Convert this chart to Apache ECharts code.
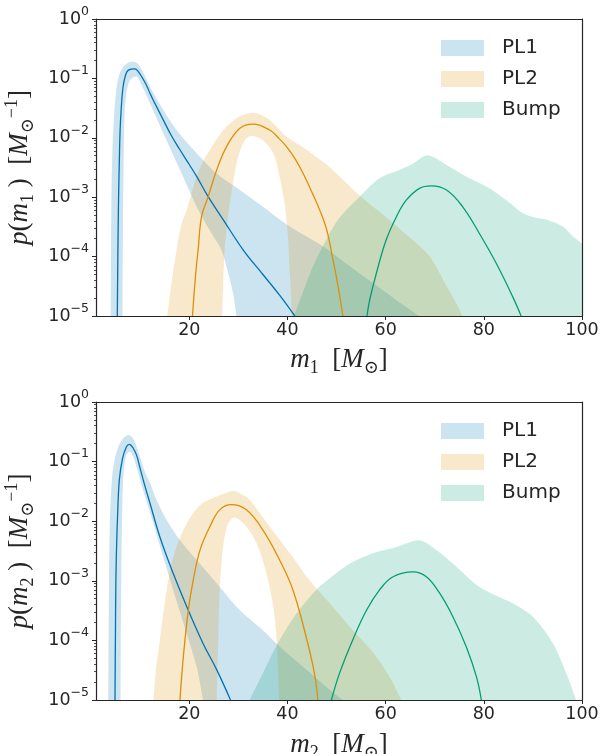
<!DOCTYPE html>
<html><head><meta charset="utf-8">
<script src="https://cdn.jsdelivr.net/npm/echarts@6/dist/echarts.min.js"></script>
<style>html,body{margin:0;padding:0;background:#fff}#c{width:602px;height:754px}</style>
</head><body><div id="c"></div>
<script>
// ---------- data (m, p) ----------
const legendNames = ['PL1', 'PL2', 'Bump'];
const xTicks = [20, 40, 60, 80, 100];
const yTicks = [1e-5, 1e-4, 1e-3, 1e-2, 1e-1, 1];

// top panel: m1
const m1Pl1Median = [[5.34,1e-5],[5.45,1e-4],[5.6,1e-3],[5.75,4e-3],[5.9,1.26e-2],[6.15,3.2e-2],[6.5,7.1e-2],[7.0,1.12e-1],[7.6,1.38e-1],[8.9,1.45e-1],[10,1.17e-1],[11.3,7.6e-2],[12,5.6e-2],[13,3.8e-2],[14.7,2e-2],[16.4,1.07e-2],[18.1,6.3e-3],[20,3.55e-3],[21.5,2.24e-3],[23.85,1.02e-3],[26.9,4.2e-4],[31,1.29e-4],[35,5e-5],[38.4,2.24e-5],[41.5,1e-5]];
const m1Pl1Upper = [[4.0,1e-5],[4.05,1e-4],[4.15,1e-3],[4.35,6.3e-3],[4.7,2.5e-2],[5.2,7.1e-2],[5.8,1.2e-1],[6.6,1.58e-1],[7.5,1.82e-1],[8.6,1.9e-1],[9.6,1.74e-1],[10.8,1.17e-1],[12,7.2e-2],[13,5.1e-2],[14.7,2.95e-2],[16,2e-2],[17.4,1.35e-2],[19.5,8.3e-3],[21.5,5.5e-3],[25.6,2.5e-3],[30.3,1.32e-3],[35,6.9e-4],[40.5,3.2e-4],[47.3,1.48e-4],[52,7.6e-5],[57,3.8e-5],[62,1.9e-5],[66.8,1e-5]];
const m1Pl1Lower = [[6.4,1e-5],[6.45,1e-4],[6.55,1e-3],[6.7,1e-2],[6.9,3.2e-2],[7.3,6.3e-2],[8.0,9.5e-2],[9.3,1.07e-1],[10.5,7.1e-2],[12,3.8e-2],[13.5,2e-2],[14.7,1.2e-2],[16.4,5.9e-3],[18.1,2.9e-3],[19.8,1.41e-3],[21.5,6.9e-4],[23.2,3.8e-4],[24.9,2.2e-4],[26.6,1.26e-4],[28,5e-5],[29,2.24e-5],[29.6,1e-5]];
const m1Pl2Median = [[20.65,1e-5],[21.0,2.5e-5],[21.4,6.3e-5],[21.8,1.29e-4],[22.5,4.7e-4],[23.85,1.02e-3],[25.6,2.9e-3],[27.6,7.1e-3],[30.3,1.45e-2],[33,1.7e-2],[36.4,1.35e-2],[38.4,9.5e-3],[39.8,7.1e-3],[41.5,4.5e-3],[43.2,2.5e-3],[45,1.2e-3],[46.6,6e-4],[48,2.8e-4],[49.3,8.7e-5],[50.3,3.2e-5],[51.3,1e-5]];
const m1Pl2Upper = [[15.5,1e-5],[16.3,3.2e-5],[17.4,1.29e-4],[18.4,3.5e-4],[19.45,6e-4],[20.5,1.2e-3],[21.5,2.24e-3],[22.8,4e-3],[24.2,6.3e-3],[25.8,1e-2],[27.6,1.55e-2],[30.3,2.3e-2],[33,2.63e-2],[34.7,2.4e-2],[36.4,2e-2],[38,1.48e-2],[39.8,1.05e-2],[43.9,6.3e-3],[48.6,3.2e-3],[54.7,1.07e-3],[60,4.7e-4],[65.5,1.9e-4],[69,1e-4],[72.4,3.2e-5],[74.5,1.58e-5],[75.6,1e-5]];
const m1Pl2Lower = [[26.7,1e-5],[26.9,3.2e-5],[27.2,1.29e-4],[27.9,4.7e-4],[28.9,1.74e-3],[29.95,4.8e-3],[31.3,9.1e-3],[32.7,1.07e-2],[35,9.1e-3],[37.1,5.5e-3],[38.4,2.24e-3],[39.5,6.9e-4],[40.1,2.2e-4],[40.5,5e-5],[40.9,1e-5]];
const m1BumpMedian = [[56.2,1e-5],[56.75,1.86e-5],[58.1,5.2e-5],[60.1,1.9e-4],[62.2,4.7e-4],[64.2,8.9e-4],[66.9,1.41e-3],[69.3,1.55e-3],[72.4,1.32e-3],[75.7,6.9e-4],[79.1,2.45e-4],[82.5,7.8e-5],[85.9,2.1e-5],[87.6,1e-5]];
const m1BumpUpper = [[41.3,1e-5],[45.2,6.8e-5],[48,2e-4],[50.6,4.5e-4],[54.7,1.02e-3],[58.8,2.1e-3],[62.9,2.9e-3],[65.6,3.7e-3],[67.6,4.8e-3],[68.6,5.1e-3],[70.3,4.5e-3],[72.4,3.5e-3],[76.4,2.24e-3],[80.5,1.51e-3],[84.6,8.9e-4],[87.9,5.4e-4],[90.5,4.5e-4],[92.7,4.2e-4],[96.1,3.2e-4],[98.1,2.2e-4],[100,1.66e-4]];
const m1BumpLower = [[41.3,1e-7],[100,1e-7]];

// bottom panel: m2
const m2Pl1Median = [[4.87,1e-5],[4.95,1e-4],[5.05,1e-3],[5.2,4e-3],[5.4,1.26e-2],[5.75,4.9e-2],[6.4,1.12e-1],[7.2,1.78e-1],[7.8,1.95e-1],[8.6,1.66e-1],[9.3,1.26e-1],[9.95,7.9e-2],[11,3.8e-2],[12,2e-2],[14,5.5e-3],[16.7,1.35e-3],[19.8,3.2e-4],[22.8,8.9e-5],[25.6,3.2e-5],[28.4,1e-5]];
const m2Pl1Upper = [[3.5,1e-5],[3.6,3.2e-4],[3.8,7.9e-3],[4.1,3.2e-2],[4.5,7.9e-2],[5.5,1.74e-1],[6.6,2.5e-1],[7.6,2.8e-1],[8.5,2.5e-1],[9.3,1.74e-1],[9.95,1.2e-1],[11,6.6e-2],[12,4.4e-2],[13.3,2.3e-2],[15.4,1.05e-2],[18.1,4.8e-3],[21.5,2.24e-3],[25.6,9.1e-4],[30.3,3.2e-4],[35,1.48e-4],[38.1,8.3e-5],[43.2,3.6e-5],[48.6,1.48e-5],[51.3,1e-5]];
const m2Pl1Lower = [[6.0,1e-5],[6.05,1e-4],[6.15,1e-3],[6.3,1e-2],[6.6,6.3e-2],[7.2,1.29e-1],[7.9,1.48e-1],[8.6,1.2e-1],[9.3,7.9e-2],[10.6,3.3e-2],[12.7,9.1e-3],[14.7,2.5e-3],[16.7,7.1e-4],[19.45,1.32e-4],[21.5,3.6e-5],[22.8,1e-5]];
const m2Pl2Median = [[18.1,1e-5],[18.8,5.4e-5],[19.8,3.2e-4],[20.8,1.02e-3],[22.2,3.3e-3],[24.2,8.1e-3],[26.2,1.55e-2],[28.6,1.9e-2],[31.65,1.55e-2],[35,7.1e-3],[38.4,2.24e-3],[41.1,7.1e-4],[43.8,1.15e-4],[45.5,2.8e-5],[46.2,1e-5]];
const m2Pl2Upper = [[12.7,1e-5],[13.2,3.2e-5],[14,1.02e-4],[14.7,2.8e-4],[15.4,7.1e-4],[16.3,1.78e-3],[17.4,3.7e-3],[19.45,9.1e-3],[22.2,1.86e-2],[25.6,2.6e-2],[28.9,3.2e-2],[30.5,2.9e-2],[32.3,2.3e-2],[36.4,8.1e-3],[40.5,2.9e-3],[44.5,1.02e-3],[48.6,4.2e-4],[52.7,1.7e-4],[57.4,6.3e-5],[60.8,2.45e-5],[63.2,1e-5]];
const m2Pl2Lower = [[25.6,1e-5],[25.9,1.02e-4],[26.2,7.1e-4],[26.9,3.7e-3],[27.9,9.1e-3],[29.3,1.15e-2],[31.65,8.1e-3],[33.7,4.3e-3],[35.7,1.35e-3],[37.1,3.7e-4],[37.8,1.02e-4],[38.1,2.8e-5],[38.3,1e-5]];
const m2BumpMedian = [[48.95,1e-5],[50.6,2.8e-5],[53.3,1.02e-4],[56.1,3.2e-4],[58.8,7.1e-4],[61.5,1.17e-3],[65.6,1.41e-3],[68.3,1.17e-3],[71,6.2e-4],[73.7,2.5e-4],[76.4,7.9e-5],[78.5,2.45e-5],[79.5,1e-5]];
const m2BumpUpper = [[32.3,1e-5],[35,2.8e-5],[37.8,8.3e-5],[41.8,2.8e-4],[45.9,7.1e-4],[50,1.35e-3],[52.7,1.95e-3],[57.4,2.9e-3],[62.2,3.7e-3],[66.9,4.8e-3],[70.3,3.3e-3],[73.7,1.95e-3],[79.1,7.9e-4],[85.9,4.2e-4],[90,2.5e-4],[94.1,8.9e-5],[96.8,2.8e-5],[98.8,1e-5]];
const m2BumpLower = [[32.3,1e-7],[98.8,1e-7]];

// ---------- styling ----------
const lineColors = {PL1:'#0173B2', PL2:'#DE8F05', Bump:'#029E73'};
const fillColors = {PL1:'rgba(1,115,178,0.2)', PL2:'rgba(222,143,5,0.2)', Bump:'rgba(2,158,115,0.2)'};
const ink = '#262626';
const yMinorTicks = [];
for (let e = -5; e < 0; e++) for (let k = 2; k <= 9; k++) yMinorTicks.push(+(k * Math.pow(10, e)).toPrecision(3));

const mathFont = '"Liberation Serif", "DejaVu Serif", serif';
const mathRich = {
  i: {fontFamily: mathFont, fontStyle: 'italic', fontSize: 27, lineHeight: 34, color: ink},
  r: {fontFamily: mathFont, fontSize: 27, lineHeight: 34, color: ink},
  sub: {fontFamily: mathFont, fontSize: 18, lineHeight: 18, verticalAlign: 'bottom', color: ink},
  sup: {fontFamily: mathFont, fontSize: 18, lineHeight: 18, verticalAlign: 'top', color: ink}
};

function yLabel(v) {
  const e = Math.round(Math.log10(v));
  return '{b|10}{s|' + (e < 0 ? '\u2212' + (-e) : e) + '}';
}

function buildAxes(g, xName, yName, xGap) {
  const xs = [{
    type: 'value', gridIndex: g, min: 1, max: 100, position: 'bottom',
    axisLine: {show: true, onZero: false, lineStyle: {color: ink, width: 1.2}},
    axisTick: {show: true, length: 4, customValues: xTicks, lineStyle: {color: ink, width: 1}},
    axisLabel: {customValues: xTicks, fontSize: 17.5, color: ink, fontFamily: 'DejaVu Sans', margin: 5},
    splitLine: {show: false},
    name: xName, nameLocation: 'middle', nameGap: xGap, nameTextStyle: {rich: mathRich}
  }, {
    type: 'value', gridIndex: g, min: 1, max: 100, position: 'top',
    axisLine: {show: true, onZero: false, lineStyle: {color: ink, width: 1.2}},
    axisTick: {show: false}, axisLabel: {show: false}, splitLine: {show: false}
  }];
  const ys = [{
    type: 'log', logBase: 10, gridIndex: g, min: 1e-5, max: 1, position: 'left',
    axisLine: {show: true, onZero: false, lineStyle: {color: ink, width: 1.2}},
    axisTick: {show: true, length: 4, customValues: yTicks, lineStyle: {color: ink, width: 1}},
    axisLabel: {customValues: yTicks, formatter: yLabel, margin: 7, rich: {
      b: {fontSize: 17.5, fontFamily: 'DejaVu Sans', color: ink, lineHeight: 28},
      s: {fontSize: 12.5, fontFamily: 'DejaVu Sans', color: ink, lineHeight: 14, verticalAlign: 'top'}
    }},
    splitLine: {show: false},
    name: yName, nameLocation: 'middle', nameGap: 56, nameTextStyle: {rich: mathRich}
  }, {
    type: 'log', logBase: 10, gridIndex: g, min: 1e-5, max: 1, position: 'left',
    axisLine: {show: false}, axisLabel: {show: false}, splitLine: {show: false},
    axisTick: {show: true, length: 2, customValues: yMinorTicks, lineStyle: {color: ink, width: 0.8}}
  }, {
    type: 'log', logBase: 10, gridIndex: g, min: 1e-5, max: 1, position: 'right',
    axisLine: {show: true, onZero: false, lineStyle: {color: ink, width: 1.2}},
    axisTick: {show: false}, axisLabel: {show: false}, splitLine: {show: false}
  }];
  return {xs, ys};
}

// push an edge's end point on past the axis, along its last segment (pixel space)
function extend(a, b) {
  const dx = b[0] - a[0], dy = b[1] - a[1], L = Math.hypot(dx, dy) || 1;
  return [b[0] + dx / L * 150, b[1] + dy / L * 150];
}

function band(name, upper, lower, g) {
  return {
    type: 'custom', name: name, xAxisIndex: g * 2, yAxisIndex: g * 3, clip: true, silent: true, z: 1,
    itemStyle: {color: fillColors[name]},
    data: [upper[0]],
    renderItem: function (params, api) {
      const cs = params.coordSys;
      const up = upper.map(function (d) { return api.coord(d); });
      const lo = lower.map(function (d) { return api.coord(d); });
      const nu = up.length, nl = lo.length;
      const pts = [extend(up[1], up[0])].concat(up, [extend(up[nu - 2], up[nu - 1]), extend(lo[nl - 2], lo[nl - 1])],
        lo.slice().reverse(), [extend(lo[1], lo[0])]);
      return {
        type: 'polygon',
        shape: {points: pts, smooth: 0.3},
        style: {fill: fillColors[name]},
        clipPath: {type: 'rect', shape: {x: cs.x, y: cs.y, width: cs.width, height: cs.height}}
      };
    }
  };
}

function median(name, data, g) {
  return {
    type: 'line', name: name + ' median', xAxisIndex: g * 2, yAxisIndex: g * 3, data: data,
    showSymbol: false, smooth: 0.4, clip: true, silent: true, z: 3,
    lineStyle: {color: lineColors[name], width: 1.3}, itemStyle: {color: lineColors[name]}
  };
}

const topAxes = buildAxes(0, '{i|m}{sub|1}{r|  [}{i|M}{sub|⊙}{r|]}', '{i|p}{r|(}{i|m}{sub|1}{r| )  [}{i|M}{sub|⊙}{sup|−1}{r|]}', 27);
const botAxes = buildAxes(1, '{i|m}{sub|2}{r|  [}{i|M}{sub|⊙}{r|]}', '{i|p}{r|(}{i|m}{sub|2}{r| )  [}{i|M}{sub|⊙}{sup|−1}{r|]}', 28);

function legendAt(topPx) {
  return {
    orient: 'vertical', left: 441, top: topPx, padding: 0, itemWidth: 43, itemHeight: 16, itemGap: 11,
    icon: 'rect', selectedMode: false,
    textStyle: {fontSize: 20, color: ink, fontFamily: 'DejaVu Sans', padding: [0, 0, 0, 13]},
    data: legendNames.map(function (n) { return {name: n, icon: 'rect', itemStyle: {color: fillColors[n]}}; })
  };
}

const option = {
  animation: false,
  backgroundColor: '#fff',
  grid: [
    {left: 96, top: 19, width: 486, height: 297, outerBoundsMode: 'none'},
    {left: 96, top: 402, width: 486, height: 298, outerBoundsMode: 'none'}
  ],
  xAxis: topAxes.xs.concat(botAxes.xs),
  yAxis: topAxes.ys.concat(botAxes.ys),
  legend: [legendAt(38), legendAt(421)],
  series: [
    band('PL1', m1Pl1Upper, m1Pl1Lower, 0),
    band('PL2', m1Pl2Upper, m1Pl2Lower, 0),
    band('Bump', m1BumpUpper, m1BumpLower, 0),
    median('PL1', m1Pl1Median, 0),
    median('PL2', m1Pl2Median, 0),
    median('Bump', m1BumpMedian, 0),
    band('PL1', m2Pl1Upper, m2Pl1Lower, 1),
    band('PL2', m2Pl2Upper, m2Pl2Lower, 1),
    band('Bump', m2BumpUpper, m2BumpLower, 1),
    median('PL1', m2Pl1Median, 1),
    median('PL2', m2Pl2Median, 1),
    median('Bump', m2BumpMedian, 1)
  ]
};

const chart = echarts.init(document.getElementById('c'), null, {renderer: 'canvas'});
chart.setOption(option);
</script></body></html>
